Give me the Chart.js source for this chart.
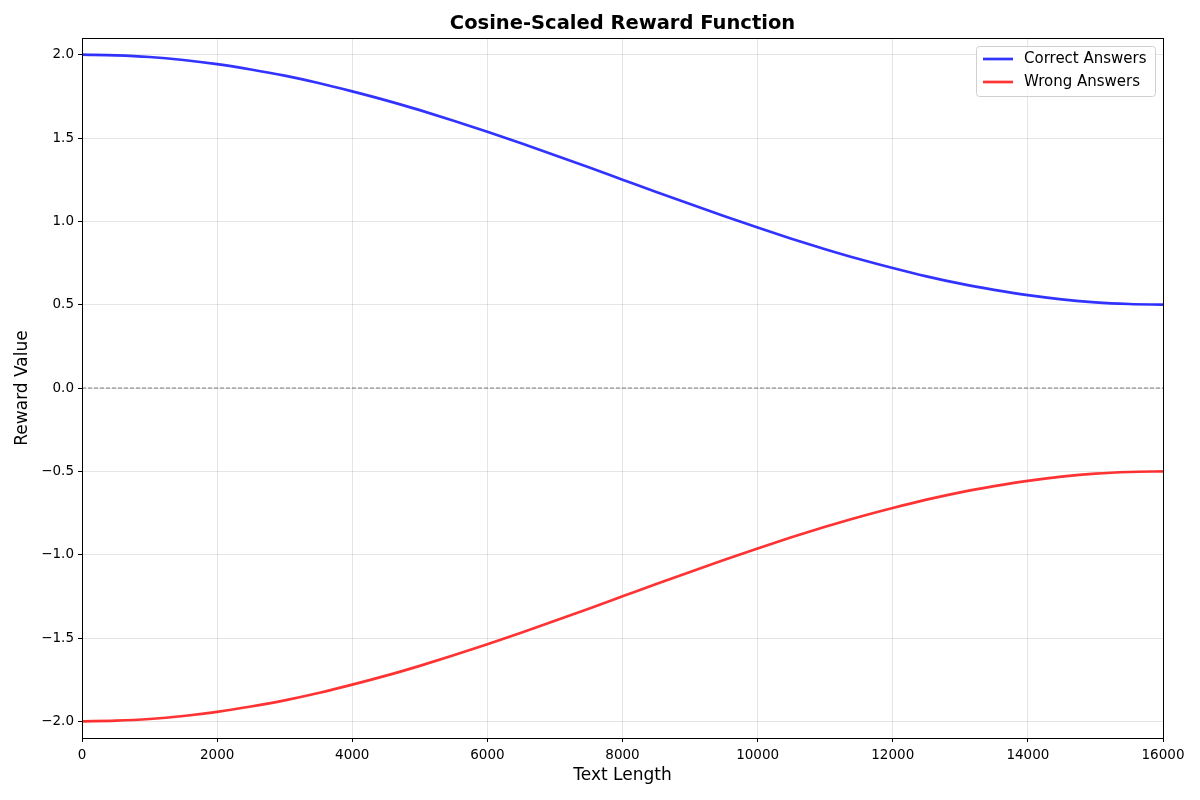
<!DOCTYPE html>
<html>
<head>
<meta charset="utf-8">
<script src="https://cdn.jsdelivr.net/npm/chart.js@4/dist/chart.umd.min.js"></script>
<style>
  html, body { margin: 0; padding: 0; background: #fff; }
  #wrap { width: 1200px; height: 800px; }
</style>
</head>
<body>
<div id="wrap"><canvas id="rewardChart" width="1200" height="800"></canvas></div>
<script>
// valores (cada 500 de longitud)
const textLength = [0, 500, 1000, 1500, 2000, 2500, 3000, 3500, 4000, 4500, 5000, 5500, 6000, 6500, 7000, 7500, 8000,
    8500, 9000, 9500, 10000, 10500, 11000, 11500, 12000, 12500, 13000, 13500, 14000, 14500, 15000, 15500, 16000];
const correctAnswers = [2.000, 1.996, 1.986, 1.968, 1.943, 1.911, 1.874, 1.830, 1.780, 1.726, 1.667, 1.604, 1.537, 1.468, 1.396, 1.324, 1.250,
    1.176, 1.104, 1.032, 0.963, 0.896, 0.833, 0.774, 0.720, 0.670, 0.626, 0.589, 0.557, 0.532, 0.514, 0.504, 0.500];
const wrongAnswers = [-2.000, -1.996, -1.986, -1.968, -1.943, -1.911, -1.874, -1.830, -1.780, -1.726, -1.667, -1.604, -1.537, -1.468, -1.396, -1.324, -1.250,
    -1.176, -1.104, -1.032, -0.963, -0.896, -0.833, -0.774, -0.720, -0.670, -0.626, -0.589, -0.557, -0.532, -0.514, -0.504, -0.500];
const zeroLine = [0, 0];
const zeroLineX = [0, 16000];
const yTicks = [-2, -1.5, -1, -0.5, 0, 0.5, 1, 1.5, 2];
const seriesNames = ['Correct Answers', 'Wrong Answers'];
const seriesColors = ['rgba(0, 0, 255, 0.8)', 'rgba(255, 0, 0, 0.8)'];
const chartTitle = 'Cosine-Scaled Reward Function';

const FONT = "'DejaVu Sans', sans-serif";

function toPoints(xs, ys) {
    return xs.map((x, i) => ({ x: x, y: ys[i] }));
}

// título centrado sobre el área, marco completo y leyenda
const framePlugin = {
    id: 'frame',
    afterDraw(chart) {
        const ctx = chart.ctx;
        const a = chart.chartArea;
        ctx.save();
        ctx.fillStyle = '#000';
        ctx.font = 'bold 19.5px ' + FONT;
        ctx.textAlign = 'center';
        ctx.textBaseline = 'middle';
        ctx.fillText(chartTitle, (a.left + a.right) / 2, 24);

        ctx.strokeStyle = '#000';
        ctx.lineWidth = 1;
        ctx.strokeRect(Math.round(a.left) + 0.5, Math.round(a.top) + 0.5, Math.round(a.right - a.left), Math.round(a.bottom - a.top));

        // leyenda
        const bx = a.right - 187, by = a.top + 8, bw = 179, bh = 50;
        ctx.beginPath();
        ctx.roundRect(bx + 0.5, by + 0.5, bw, bh, 3);
        ctx.fillStyle = 'rgba(255,255,255,0.8)';
        ctx.fill();
        ctx.strokeStyle = '#d0d0d0';
        ctx.lineWidth = 1;
        ctx.stroke();
        ctx.font = '15px ' + FONT;
        ctx.textAlign = 'left';
        ctx.textBaseline = 'middle';
        seriesNames.forEach((name, i) => {
            const y = by + 13 + i * 23;
            ctx.beginPath();
            ctx.moveTo(bx + 7, y);
            ctx.lineTo(bx + 37, y);
            ctx.strokeStyle = seriesColors[i];
            ctx.lineWidth = 2.7;
            ctx.stroke();
            ctx.fillStyle = '#000';
            ctx.fillText(name, bx + 48, y);
        });
        ctx.restore();
    }
};

document.addEventListener("DOMContentLoaded", function() {
    const ctx = document.getElementById('rewardChart').getContext('2d');
    const rewardChart = new Chart(ctx, {
        type: 'line',
        data: {
            datasets: [
                {
                    label: seriesNames[0],
                    data: toPoints(textLength, correctAnswers),
                    borderColor: seriesColors[0],
                    borderWidth: 2.7,
                    pointRadius: 0,
                    cubicInterpolationMode: 'monotone',
                    fill: false
                },
                {
                    label: seriesNames[1],
                    data: toPoints(textLength, wrongAnswers),
                    borderColor: seriesColors[1],
                    borderWidth: 2.7,
                    pointRadius: 0,
                    cubicInterpolationMode: 'monotone',
                    fill: false
                },
                {
                    label: 'zero',
                    data: toPoints(zeroLineX, zeroLine),
                    borderColor: 'rgba(0, 0, 0, 0.5)',
                    borderWidth: 1,
                    borderDash: [4, 2],
                    pointRadius: 0,
                    fill: false,
                    order: 5
                }
            ]
        },
        options: {
            responsive: false,
            animation: false,
            layout: { padding: { left: 0, right: 37, top: 38, bottom: 0 } },
            plugins: {
                legend: { display: false },
                tooltip: { enabled: false },
                title: { display: false }
            },
            scales: {
                x: {
                    type: 'linear',
                    min: 0,
                    max: 16000,
                    afterFit: function(scale) { scale.height = 62; },
                    ticks: {
                        stepSize: 2000,
                        color: '#000',
                        font: { family: FONT, size: 13.5 },
                        padding: 5,
                        maxRotation: 0,
                        callback: function(value) { return String(value); }
                    },
                    grid: { color: 'rgba(0,0,0,0.1)', tickColor: '#000', tickLength: 4 },
                    border: { color: '#000' },
                    title: {
                        display: true,
                        text: 'Text Length',
                        color: '#000',
                        font: { family: FONT, size: 17 },
                        padding: { top: 4, bottom: 14 }
                    }
                },
                y: {
                    min: -2.1,
                    max: 2.1,
                    afterFit: function(scale) { scale.width = 82; },
                    afterBuildTicks: function(scale) {
                        scale.ticks = yTicks.map(v => ({ value: v }));
                    },
                    ticks: {
                        color: '#000',
                        font: { family: FONT, size: 13.5 },
                        padding: 4,
                        callback: function(value) { return value.toFixed(1).replace('-', '\u2212'); }
                    },
                    grid: { color: 'rgba(0,0,0,0.1)', tickColor: '#000', tickLength: 4 },
                    border: { color: '#000' },
                    title: {
                        display: true,
                        text: 'Reward Value',
                        color: '#000',
                        font: { family: FONT, size: 17 },
                        padding: { top: 12, bottom: 4 }
                    }
                }
            }
        },
        plugins: [framePlugin]
    });
});
</script>
</body>
</html>
